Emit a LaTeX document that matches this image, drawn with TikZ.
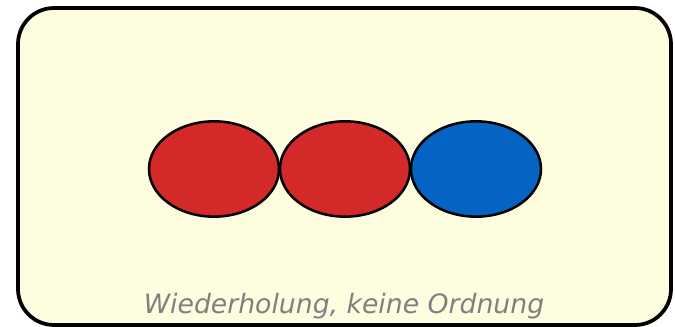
\documentclass[tikz,border=0pt]{standalone}
\usepackage{fontspec}
\setmainfont{DejaVu Sans}
\usetikzlibrary{shapes.geometric}

\definecolor{paneyellow}{RGB}{255,253,224}
\definecolor{ballred}{RGB}{211,41,41}
\definecolor{ballblue}{RGB}{5,99,196}
\definecolor{captiongray}{RGB}{128,128,128}

\begin{document}
\begin{tikzpicture}[x=0.75pt,y=0.75pt,yscale=-1,xscale=1]
\useasboundingbox (0,0) rectangle (675,327);

%Shape: Rounded Rectangle [id:pane]
\draw [line width=2.8pt, fill=paneyellow, rounded corners=27pt] (18,8) rectangle (671,325) ;

%Shape: Ellipse [id:ball1]
\node [ellipse, draw, line width=1.9pt, fill=ballred, minimum width=97.5pt, minimum height=71.5pt, inner sep=0pt] (ball1) at (214,169) {};
%Shape: Ellipse [id:ball2]
\node [ellipse, draw, line width=1.9pt, fill=ballred, minimum width=97.5pt, minimum height=71.5pt, inner sep=0pt] (ball2) at (345,169) {};
%Shape: Ellipse [id:ball3]
\node [ellipse, draw, line width=1.9pt, fill=ballblue, minimum width=97.5pt, minimum height=71.5pt, inner sep=0pt] (ball3) at (476,169) {};

% Text Node
\node [anchor=base, inner sep=0.75pt, text=captiongray, font=\fontsize{20}{24}\selectfont\itshape] (caption) at (344,314) {Wiederholung, keine Ordnung};

\end{tikzpicture}
\end{document}
